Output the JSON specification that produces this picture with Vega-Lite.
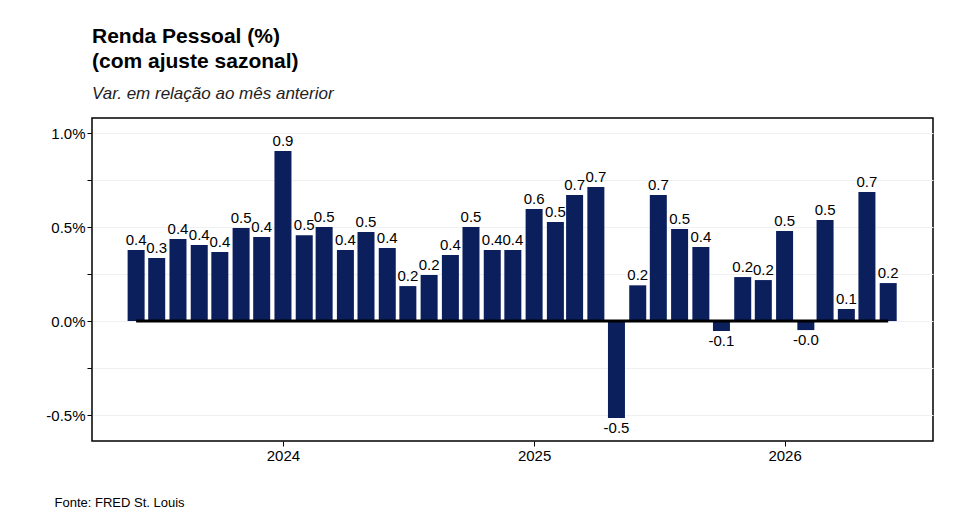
{
"$schema":"https://vega.github.io/schema/vega-lite/v6.json",
"width":841,"height":323,"autosize":"none",
"padding":{"left":92,"top":118,"right":23,"bottom":90},
"background":"white",
"title":{"text":["Renda Pessoal (%)","(com ajuste sazonal)"],"subtitle":"Var. em relação ao mês anterior","anchor":"start","frame":"group","font":"Liberation Sans","fontSize":21,"fontWeight":"bold","color":"black","subtitleFont":"Liberation Sans","subtitleFontSize":17,"subtitleFontStyle":"italic","subtitleColor":"#222","offset":16,"lineHeight":25,"subtitlePadding":14},
"config":{"view":{"stroke":"black","strokeWidth":1.5},"font":"Liberation Sans"},
"data":{"values":[
{"d":"2023-06-01","v":0.378},{"d":"2023-07-01","v":0.335},{"d":"2023-08-01","v":0.436},{"d":"2023-09-01","v":0.404},{"d":"2023-10-01","v":0.367},{"d":"2023-11-01","v":0.495},{"d":"2023-12-01","v":0.447},
{"d":"2024-01-01","v":0.904},{"d":"2024-02-01","v":0.457},{"d":"2024-03-01","v":0.5},{"d":"2024-04-01","v":0.378},{"d":"2024-05-01","v":0.473},{"d":"2024-06-01","v":0.388},{"d":"2024-07-01","v":0.186},{"d":"2024-08-01","v":0.245},{"d":"2024-09-01","v":0.351},{"d":"2024-10-01","v":0.5},{"d":"2024-11-01","v":0.378},{"d":"2024-12-01","v":0.378},
{"d":"2025-01-01","v":0.596},{"d":"2025-02-01","v":0.527},{"d":"2025-03-01","v":0.67},{"d":"2025-04-01","v":0.713},{"d":"2025-05-01","v":-0.516},{"d":"2025-06-01","v":0.19},{"d":"2025-07-01","v":0.67},{"d":"2025-08-01","v":0.49},{"d":"2025-09-01","v":0.394},{"d":"2025-10-01","v":-0.053},{"d":"2025-11-01","v":0.234},{"d":"2025-12-01","v":0.218},
{"d":"2026-01-01","v":0.479},{"d":"2026-02-01","v":-0.048},{"d":"2026-03-01","v":0.537},{"d":"2026-04-01","v":0.064},{"d":"2026-05-01","v":0.686},{"d":"2026-06-01","v":0.202}
]},
"transform":[{"calculate":"datum.v<0 ? '-'+format(abs(datum.v),'.1f') : format(datum.v,'.1f')","as":"lbl"}],
"encoding":{
"x":{"field":"d","type":"temporal","scale":{"domain":["2023-04-05","2026-07-29"]},
 "axis":{"tickCount":{"interval":"year","step":1},"format":"%Y","grid":false,"domain":false,"tickColor":"black","labelFontSize":15,"labelColor":"black","title":"Fonte: FRED St. Louis","titleAnchor":"start","titleX":-38,"titleY":55,"titleFontSize":13,"titleFontWeight":"normal","titleColor":"black"}},
"y":{"field":"v","type":"quantitative","scale":{"domain":[-0.638,1.08],"nice":false},
 "axis":{"values":[-0.5,-0.25,0,0.25,0.5,0.75,1.0],"labelExpr":"datum.value*2 % 1 == 0 ? replace(format(datum.value,'.1f'),'\u2212','-')+'%' : ''","gridColor":"#f0f0f0","domain":false,"tickColor":"black","labelFontSize":15,"labelColor":"black","title":null}}
},
"layer":[
{"mark":{"type":"bar","color":"#0a1f5c","size":17}},
{"data":{"values":[{"a":"2023-06-01","b":"2026-06-01","z":0}]},"transform":[],"mark":{"type":"rule","color":"black","strokeWidth":3},"encoding":{"x":{"field":"a","type":"temporal"},"x2":{"field":"b"},"y":{"field":"z","type":"quantitative"}}},
{"transform":[{"filter":"datum.v>=0"}],"mark":{"type":"text","baseline":"bottom","dy":-2,"fontSize":15,"color":"black"},"encoding":{"text":{"field":"lbl"}}},
{"transform":[{"filter":"datum.v<0"}],"mark":{"type":"text","baseline":"top","dy":3,"fontSize":15,"color":"black"},"encoding":{"text":{"field":"lbl"}}}
]
}
